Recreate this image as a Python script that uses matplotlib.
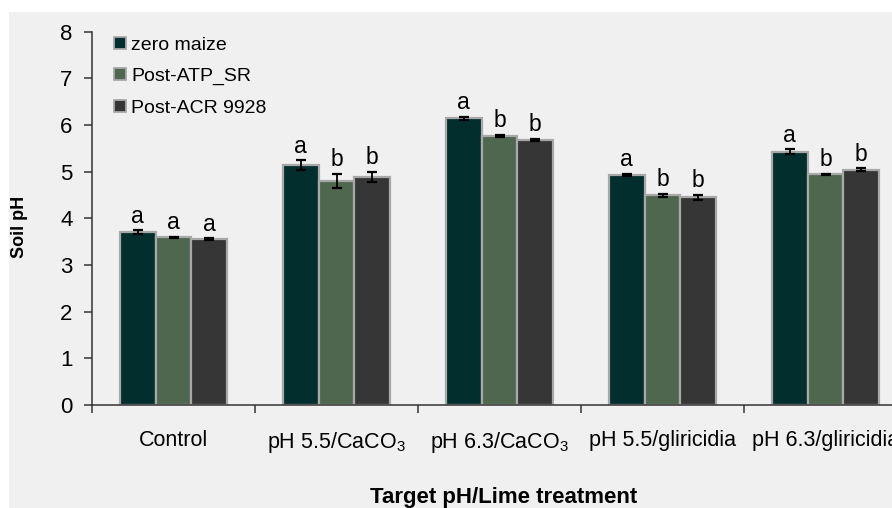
import matplotlib
matplotlib.use("Agg")
import matplotlib.pyplot as plt
from matplotlib.patches import Rectangle
from matplotlib.lines import Line2D
import numpy as np

plt.rcParams['font.family'] = ['Liberation Sans', 'DejaVu Sans']
plt.rcParams['mathtext.fontset'] = 'custom'
plt.rcParams['mathtext.rm'] = 'Liberation Sans'
plt.rcParams['mathtext.it'] = 'Liberation Sans:italic'
plt.rcParams['mathtext.bf'] = 'Liberation Sans:bold'

categories = ['Control', r'pH 5.5/CaCO$_3$', r'pH 6.3/CaCO$_3$',
              'pH 5.5/gliricidia', 'pH 6.3/gliricidia']
series_names = ['zero maize', 'Post-ATP_SR', 'Post-ACR 9928']
zero_maize = [3.70, 5.14, 6.14, 4.93, 5.43]
post_atp = [3.59, 4.81, 5.77, 4.49, 4.94]
post_acr = [3.55, 4.89, 5.68, 4.45, 5.04]
err_zero = [0.04, 0.10, 0.04, 0.02, 0.05]
err_atp = [0.02, 0.15, 0.02, 0.04, 0.01]
err_acr = [0.02, 0.11, 0.03, 0.06, 0.03]
letters_zero = ['a', 'a', 'a', 'a', 'a']
letters_atp = ['a', 'b', 'b', 'b', 'b']
letters_acr = ['a', 'b', 'b', 'b', 'b']
colors = ['#022e2e', '#4f664f', '#363636']

W, H = 892, 508
fig = plt.figure(figsize=(W / 100, H / 100), dpi=100, facecolor='white')
fig.patches.append(Rectangle((9 / W, 0), 1 - 9 / W, 1 - 12 / H,
                             transform=fig.transFigure, facecolor='#f0f0f0',
                             edgecolor='none', zorder=-10))

left = 92 / W
right_px = 92 + 5 * 163
bottom = 1 - 405 / H
top = 1 - 31.7 / H
ax = fig.add_axes([left, bottom, (right_px - 92) / W, top - bottom])
ax.set_facecolor('none')

x = np.arange(len(categories))
bw = 0.22
series = [zero_maize, post_atp, post_acr]
errs = [err_zero, err_atp, err_acr]
letters = [letters_zero, letters_atp, letters_acr]
for k in range(3):
    xs = x + (k - 1) * bw
    ax.bar(xs, series[k], width=bw, color=colors[k], edgecolor='#a8a8a8',
           linewidth=1.6, zorder=2)
    ax.errorbar(xs, series[k], yerr=errs[k], fmt='none', ecolor='black',
                elinewidth=1.3, capsize=3.6, capthick=1.6, zorder=3)
    for xi, v, e, t in zip(xs, series[k], errs[k], letters[k]):
        ax.annotate(t, (xi, v + e), xytext=(0, 5.5), textcoords='offset points',
                    ha='center', va='baseline', fontsize=16.5, color='black',
                    zorder=4)

ax.set_xlim(-0.5, len(categories) - 0.5)
ax.set_ylim(0, 8)
ax.set_yticks(range(0, 9))
ax.tick_params(axis='y', direction='out', length=6, width=1.1, color='#333333',
               labelsize=16, pad=8)
ax.set_xticks(x)
ax.set_xticklabels(categories)
ax.tick_params(axis='x', which='major', length=0, labelsize=15.5, pad=18)
ax.set_xticks(np.arange(-0.5, len(categories) + 0.5, 1), minor=True)
ax.tick_params(axis='x', which='minor', direction='out', length=5.5, width=1.1,
               color='#333333')
for s in ['top', 'right']:
    ax.spines[s].set_visible(False)
for s in ['left', 'bottom']:
    ax.spines[s].set_color('#333333')
    ax.spines[s].set_linewidth(1.1)

fig.text(20 / W, 1 - 227 / H, 'Soil pH', fontsize=13, fontweight='bold',
         rotation=90, ha='center', va='center')
fig.text(504 / W, 1 - 497 / H, 'Target pH/Lime treatment', fontsize=16,
         fontweight='bold', ha='center', va='center')

handles = [Line2D([], [], linestyle='none', marker='s', markersize=8.0,
                  markerfacecolor=c, markeredgecolor='#a8a8a8',
                  markeredgewidth=1.3) for c in colors]
leg = ax.legend(handles, series_names, loc='upper left',
                bbox_to_anchor=(113 / W, 1 - 36 / H), bbox_transform=fig.transFigure,
                frameon=False, fontsize=14, handlelength=0.7, handletextpad=0.25,
                labelspacing=0.72, borderaxespad=0, borderpad=0)

fig.savefig('out.png', dpi=100, facecolor='white')
